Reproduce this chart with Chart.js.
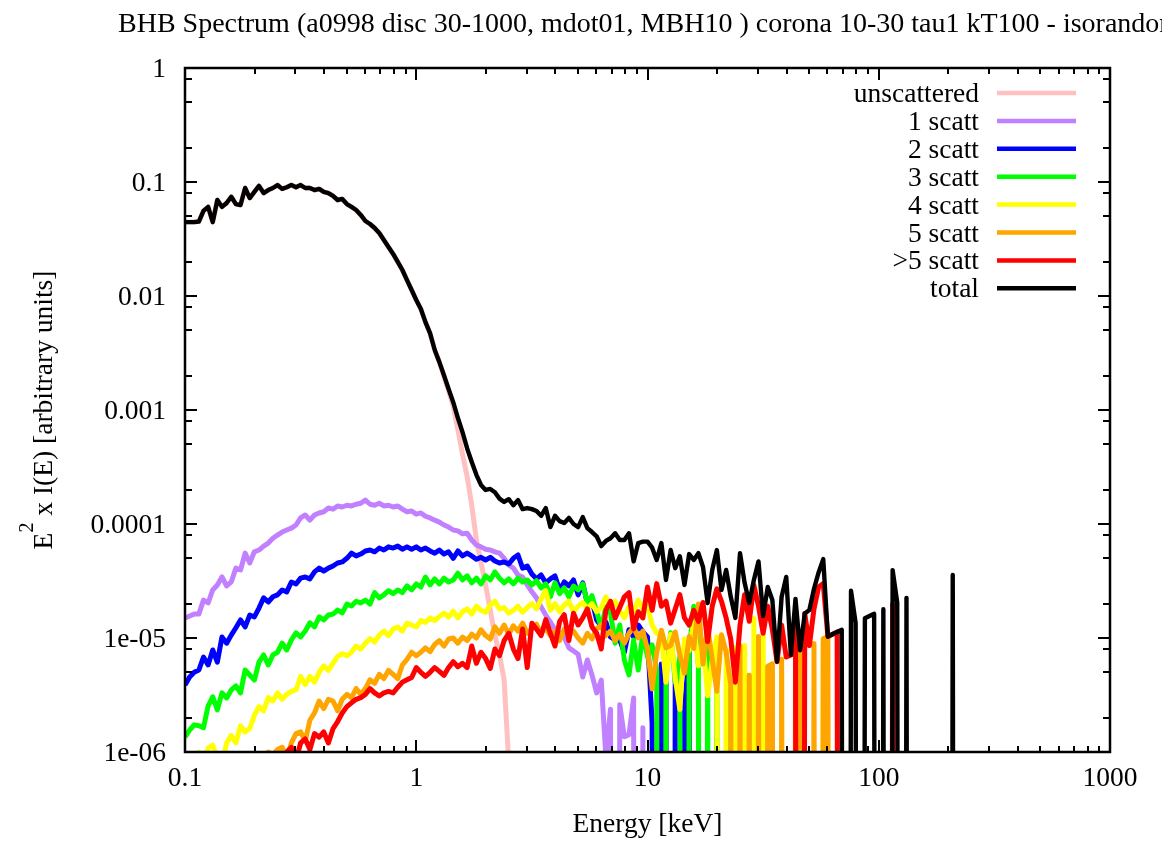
<!DOCTYPE html>
<html><head><meta charset="utf-8">
<script src="https://cdn.jsdelivr.net/npm/chart.js@4.4.1/dist/chart.umd.min.js"></script>
<style>html,body{margin:0;padding:0;background:#fff;}#wrap{width:1162px;height:841px;}</style>
</head><body><div id="wrap"><canvas id="c" width="1162" height="841"></canvas></div>
<script>
const chartTitle = 'BHB Spectrum (a0998 disc 30-1000, mdot01, MBH10 ) corona 10-30 tau1 kT100 - isorandom';
const xAxisTitle = 'Energy [keV]';
const yAxisTitleBase = 'E', yAxisTitleSup = '2', yAxisTitleRest = ' x I(E) [arbitrary units]';

const xTickValues = [0.1, 1, 10, 100, 1000];
const xTickLabels = ['0.1', '1', '10', '100', '1000'];
const yTickValues = [1e-6, 1e-5, 1e-4, 1e-3, 0.01, 0.1, 1];
const yTickLabels = ['1e-06', '1e-05', '0.0001', '0.001', '0.01', '0.1', '1'];

// energy bins [keV]
const energy = [
0.1,0.1047,0.1096,0.1148,0.1202,0.1259,0.1318,0.138,0.1445,0.1514,
0.1585,0.166,0.1738,0.182,0.1905,0.1995,0.2089,0.2188,0.2291,0.2399,
0.2512,0.263,0.2754,0.2884,0.302,0.3162,0.3311,0.3467,0.3631,0.3802,
0.3981,0.4169,0.4365,0.4571,0.4786,0.5012,0.5248,0.5495,0.5754,0.6026,
0.631,0.6607,0.6918,0.7244,0.7586,0.7943,0.8318,0.871,0.912,0.955,
1,1.047,1.096,1.148,1.202,1.259,1.318,1.38,1.445,1.514,
1.585,1.66,1.738,1.82,1.905,1.995,2.089,2.188,2.291,2.399,
2.512,2.63,2.754,2.884,3.02,3.162,3.311,3.467,3.631,3.802,
3.981,4.169,4.365,4.571,4.786,5.012,5.248,5.495,5.754,6.026,
6.31,6.607,6.918,7.244,7.586,7.943,8.318,8.71,9.12,9.55,
10,10.47,10.96,11.48,12.02,12.59,13.18,13.8,14.45,15.14,
15.85,16.6,17.38,18.2,19.05,19.95,20.89,21.88,22.91,23.99,
25.12,26.3,27.54,28.84,30.2,31.62,33.11,34.67,36.31,38.02,
39.81,41.69,43.65,45.71,47.86,50.12,52.48,54.95,57.54,60.26,
63.1,66.07,69.18,72.44,75.86,79.43,83.18,87.1,91.2,95.5,
100,104.7,109.6,114.8,120.2,125.9,131.8,138,144.5,151.4,
158.5,166,173.8,182,190.5,199.5,208.9,218.8];

// E^2 x I(E) per component (0 = empty bin)
const unscattered = [
0.0445,0.0445,0.0445,0.045,0.0558,0.0605,0.0445,0.0695,0.0605,0.0655,
0.0742,0.064,0.0628,0.0886,0.0723,0.0818,0.0924,0.08,0.085,0.0886,
0.094,0.087,0.09,0.094,0.09,0.094,0.0886,0.0886,0.085,0.087,
0.0818,0.08,0.0755,0.0695,0.071,0.064,0.0605,0.0568,0.0514,0.0455,
0.0428,0.0395,0.0357,0.031,0.0269,0.0234,0.0199,0.0169,0.0138,0.0113,
0.00923,0.0077,0.0059,0.0047,0.00336,0.00263,0.00195,0.00148,0.00108,6.7e-4,
4.1e-4,2.6e-4,1.46e-4,7.24e-5,4.6e-5,2.92e-5,1.76e-5,1.06e-5,7.1e-6,4.28e-6,
8e-7];

const scatt1 = [
1.5e-5,1.56e-5,1.62e-5,1.62e-5,2.15e-5,2.03e-5,2.64e-5,2.92e-5,3.43e-5,2.86e-5,
3.1e-5,4.1e-5,3.95e-5,5.55e-5,4.55e-5,5.7e-5,5.91e-5,6.4e-5,6.8e-5,7.5e-5,
8.0e-5,8.5e-5,8.86e-5,9.2e-5,9.8e-5,1.13e-4,1.2e-4,1.08e-4,1.2e-4,1.25e-4,
1.28e-4,1.38e-4,1.35e-4,1.44e-4,1.41e-4,1.46e-4,1.44e-4,1.49e-4,1.52e-4,1.62e-4,
1.49e-4,1.46e-4,1.52e-4,1.44e-4,1.46e-4,1.41e-4,1.44e-4,1.35e-4,1.28e-4,1.3e-4,
1.22e-4,1.25e-4,1.17e-4,1.13e-4,1.08e-4,1.04e-4,9.8e-5,9.4e-5,8.86e-5,8.7e-5,
8.2e-5,8.3e-5,7.24e-5,6.55e-5,6.3e-5,6.0e-5,5.91e-5,5.7e-5,5.55e-5,5.0e-5,
4.37e-5,4.1e-5,3.57e-5,3.43e-5,2.92e-5,2.54e-5,2.25e-5,1.87e-5,1.59e-5,1.38e-5,
1.18e-5,1.11e-5,1.02e-5,8.2e-6,7.7e-6,7.2e-6,4.55e-6,6.41e-6,4.74e-6,3.3e-6,
4.28e-6,9e-7,2.37e-6,0,2.6e-6,1.36e-6,1.42e-6,2.98e-6,0,1.63e-6,
0];

const scatt2 = [
3.87e-6,4.55e-6,5.0e-6,5.24e-6,6.8e-6,5.8e-6,7.85e-6,6.15e-6,1.02e-5,9.0e-6,
1.06e-5,1.23e-5,1.44e-5,1.25e-5,1.59e-5,1.53e-5,1.83e-5,2.25e-5,2.07e-5,2.3e-5,
2.39e-5,2.64e-5,2.54e-5,3.1e-5,2.98e-5,3.35e-5,3.43e-5,3.3e-5,3.8e-5,4.1e-5,
3.87e-5,4.1e-5,4.28e-5,4.55e-5,4.65e-5,5.0e-5,5.55e-5,5.25e-5,5.45e-5,5.8e-5,
5.91e-5,5.7e-5,6.15e-5,5.91e-5,6.3e-5,6.15e-5,6.4e-5,6.0e-5,6.3e-5,6.0e-5,
6.3e-5,5.91e-5,6.15e-5,5.8e-5,5.55e-5,5.91e-5,5.45e-5,5.7e-5,5.0e-5,5.8e-5,
5.25e-5,5.55e-5,5.25e-5,4.9e-5,5.1e-5,4.83e-5,5.1e-5,4.74e-5,4.55e-5,4.65e-5,
4.46e-5,5.0e-5,5.35e-5,4.1e-5,4.28e-5,3.64e-5,3.3e-5,3.57e-5,3.05e-5,3.3e-5,
3.5e-5,2.64e-5,3.1e-5,2.86e-5,3.23e-5,2.39e-5,3.05e-5,2.0e-5,2.15e-5,1.44e-5,
1.27e-5,1.38e-5,1.02e-5,9.6e-6,9.6e-6,7.5e-6,1.18e-5,1.02e-5,1.3e-5,1.13e-5,
1.02e-5,1.79e-6,0,5.9e-6,4.1e-6,0,4.5e-6,0,2.46e-6,7.7e-6,
0];

const scatt3 = [
1.35e-6,1.56e-6,1.73e-6,1.7e-6,1.63e-6,2.54e-6,3.05e-6,2.34e-6,3.3e-6,2.98e-6,
3.5e-6,3.8e-6,3.3e-6,5.24e-6,4.74e-6,4.28e-6,6.15e-6,7.1e-6,5.8e-6,7.1e-6,
7.5e-6,9.0e-6,7.85e-6,9.6e-6,1.11e-5,1.02e-5,1.15e-5,1.36e-5,1.25e-5,1.53e-5,
1.44e-5,1.59e-5,1.62e-5,1.76e-5,1.66e-5,1.98e-5,1.91e-5,2.1e-5,2.03e-5,2.15e-5,
1.98e-5,2.5e-5,2.25e-5,2.39e-5,2.6e-5,2.45e-5,2.64e-5,2.5e-5,2.86e-5,2.64e-5,
2.98e-5,2.8e-5,3.43e-5,2.92e-5,3.3e-5,2.98e-5,3.35e-5,3.1e-5,3.23e-5,3.7e-5,
3.23e-5,3.5e-5,3.05e-5,3.35e-5,2.98e-5,3.5e-5,3.23e-5,3.8e-5,3.35e-5,3.05e-5,
3.3e-5,2.98e-5,3.35e-5,3.1e-5,3.23e-5,2.92e-5,3.18e-5,2.75e-5,2.98e-5,2.3e-5,
3.05e-5,2.45e-5,2.75e-5,2.3e-5,2.86e-5,2.64e-5,2.98e-5,2.03e-5,2.35e-5,1.69e-5,
1.23e-5,1.87e-5,1.66e-5,9.0e-6,1.3e-5,6.41e-6,4.74e-6,9.6e-6,5.24e-6,1.11e-5,
6.8e-6,8.7e-6,5.24e-6,0,4.55e-6,1.11e-5,4.1e-6,6.8e-6,0,7.77e-6,
1.9e-5,5.7e-6,0,9.3e-6,0,3.41e-6,0,0,3.91e-6,0,
0,0,4.71e-6,0,0,5.4e-6,0];

const scatt4 = [
5e-7,6e-7,8e-7,1.0e-6,8e-7,1.08e-6,1.15e-6,8.5e-7,7.7e-7,1.2e-6,
1.4e-6,1.2e-6,1.7e-6,1.5e-6,1.6e-6,2.1e-6,2.5e-6,2.3e-6,3.0e-6,2.8e-6,
3.3e-6,2.9e-6,3.2e-6,3.4e-6,3.5e-6,4.6e-6,3.9e-6,4.6e-6,4.1e-6,5.0e-6,
5.7e-6,5.2e-6,6.0e-6,6.9e-6,7.3e-6,7.0e-6,7.5e-6,8.5e-6,8.0e-6,9.0e-6,
9.9e-6,9.2e-6,1.06e-5,1.15e-5,1.05e-5,1.2e-5,1.25e-5,1.15e-5,1.35e-5,1.3e-5,
1.25e-5,1.42e-5,1.37e-5,1.5e-5,1.42e-5,1.55e-5,1.65e-5,1.53e-5,1.72e-5,1.5e-5,
1.7e-5,1.8e-5,1.62e-5,1.9e-5,1.75e-5,1.68e-5,1.95e-5,2.1e-5,1.8e-5,1.85e-5,
1.65e-5,1.75e-5,1.9e-5,1.68e-5,1.85e-5,2.0e-5,1.8e-5,2.2e-5,2.6e-5,1.75e-5,
2.0e-5,1.7e-5,1.95e-5,2.1e-5,1.7e-5,1.9e-5,2.05e-5,1.8e-5,2.0e-5,1.7e-5,
1.85e-5,2.3e-5,1.9e-5,2.1e-5,1.75e-5,1.5e-5,1.9e-5,1.7e-5,2.15e-5,1.8e-5,
1.9e-5,1.3e-5,1.1e-5,1.05e-5,4.1e-6,1.08e-5,4.5e-6,2.36e-6,9.84e-6,7.77e-6,
1.36e-5,5.7e-6,8.9e-6,3.11e-6,6.5e-6,1.02e-5,0,7.5e-6,7.8e-6,8.2e-6,
0,8.6e-6,0,1.48e-5,0,1.08e-5,0,5.93e-6,0,6.5e-6,
0,0,0,0,0,0,0,0,9.84e-6,0];

const scatt5 = [
1.5e-7,2e-7,1.8e-7,2.5e-7,2.2e-7,3e-7,2.8e-7,3.5e-7,3.2e-7,4e-7,
4.5e-7,4.2e-7,5e-7,5.5e-7,5e-7,6.5e-7,6e-7,8e-7,1.0e-6,9.5e-7,
1.05e-6,1.1e-6,8.8e-7,1.2e-6,1.45e-6,1.5e-6,1.25e-6,1.9e-6,2.2e-6,2.8e-6,
2.4e-6,2.9e-6,2.8e-6,2.3e-6,2.9e-6,3.2e-6,3.0e-6,3.6e-6,3.2e-6,3.6e-6,
4.3e-6,4.0e-6,4.8e-6,4.4e-6,5.2e-6,4.8e-6,4.4e-6,5.8e-6,6.5e-6,7.5e-6,
7.0e-6,7.5e-6,8.2e-6,7.6e-6,8.8e-6,9.5e-6,8.5e-6,9.8e-6,1.0e-5,9.0e-6,
1.02e-5,9.5e-6,1.08e-5,1.0e-5,1.18e-5,1.05e-5,9.8e-6,1.25e-5,1.1e-5,1.3e-5,
1.08e-5,1.28e-5,1.15e-5,1.35e-5,1.1e-5,1.2e-5,1.32e-5,1.1e-5,1.22e-5,1.05e-5,
1.15e-5,9.5e-6,1.2e-5,1.05e-5,1.15e-5,1.0e-5,9.0e-6,1.1e-5,9.8e-6,1.2e-5,
1.3e-5,1.05e-5,1.15e-5,9.5e-6,1.08e-5,9.0e-6,1.1e-5,1.25e-5,1.0e-5,1.15e-5,
8.0e-6,3.58e-6,7.48e-6,1.17e-5,8.2e-6,8.6e-6,1.13e-5,7.1e-6,4.9e-6,1.03e-5,
8.1e-6,1.99e-5,5.9e-6,1.24e-5,6.5e-6,3.41e-6,1.07e-5,7.5e-6,3.91e-6,0,
8.6e-6,0,4.71e-6,0,1.03e-5,0,5.66e-6,5.93e-6,0,6.5e-6,
0,0,7.46e-6,7.8e-6,0,0,8.97e-6,0,9.84e-6,1.03e-5,
0];

const scattMore = [
1e-7,1.2e-7,1.1e-7,1.5e-7,1.4e-7,1.8e-7,2e-7,2.3e-7,2.2e-7,2.7e-7,
3e-7,3.3e-7,3.1e-7,3.8e-7,4.2e-7,4e-7,4.8e-7,5.2e-7,5.8e-7,6e-7,
7e-7,7.5e-7,1.0e-6,1.1e-6,8.5e-7,1.2e-6,1.3e-6,1.05e-6,1.45e-6,1.35e-6,
1.5e-6,1.2e-6,1.6e-6,1.85e-6,2.2e-6,2.5e-6,2.7e-6,2.9e-6,3.0e-6,3.2e-6,
3.6e-6,3.3e-6,3.1e-6,3.3e-6,3.4e-6,3.3e-6,3.7e-6,4.1e-6,4.3e-6,4.5e-6,
5.5e-6,5.0e-6,4.6e-6,5.0e-6,5.5e-6,5.1e-6,4.7e-6,5.5e-6,6.2e-6,5.6e-6,
6.0e-6,5.5e-6,8.5e-6,6.0e-6,7.5e-6,6.6e-6,5.4e-6,8.0e-6,7.0e-6,9.5e-6,
1.1e-5,8.0e-6,6.6e-6,1.2e-5,5.5e-6,1.35e-5,1.2e-5,1.05e-5,1.45e-5,1.1e-5,
8.5e-6,1.4e-5,1.6e-5,9.5e-6,1.65e-5,1.3e-5,1.5e-5,1.8e-5,1.25e-5,1.1e-5,
8.0e-6,1.75e-5,2.1e-5,1.5e-5,1.85e-5,2.3e-5,2.5e-5,1.2e-5,1.7e-5,1.5e-5,
2.8e-5,1.75e-5,3.0e-5,1.9e-5,2.1e-5,1.35e-5,1.8e-5,2.4e-5,1.5e-5,1.3e-5,
1.75e-5,1.4e-5,2.05e-5,9.3e-6,1.9e-5,2.7e-5,2.1e-5,1.5e-5,9.8e-6,4.1e-6,
1.3e-5,2.4e-5,1.4e-5,2.9e-5,1.9e-5,1.1e-5,1.9e-5,1.19e-5,6.2e-6,1.3e-5,
6.8e-6,7.1e-6,1.5e-5,0,1.64e-5,8.57e-6,1.8e-5,2.8e-5,3.0e-5,1.03e-5,
1.08e-5,1.13e-5,0,0,0,0,0,0,0,0,
0,0,0,1.97e-5,0];

const total = [
0.0445,0.0445,0.0445,0.045,0.0558,0.0605,0.0445,0.0695,0.0605,0.0655,
0.0742,0.064,0.0628,0.0886,0.0723,0.0818,0.0924,0.08,0.085,0.0886,
0.094,0.087,0.09,0.094,0.09,0.094,0.0886,0.0886,0.085,0.087,
0.0818,0.08,0.0755,0.0695,0.071,0.064,0.0605,0.0568,0.0514,0.0455,
0.0428,0.0395,0.0357,0.031,0.0269,0.0234,0.0199,0.0169,0.0138,0.0113,
0.00923,0.0077,0.0059,0.0047,0.00336,0.00263,0.00202,0.00153,0.00117,8.5e-4,
6.4e-4,4.6e-4,3.5e-4,2.7e-4,2.2e-4,1.99e-4,2.03e-4,1.9e-4,1.67e-4,1.56e-4,
1.65e-4,1.46e-4,1.62e-4,1.35e-4,1.38e-4,1.35e-4,1.3e-4,1.18e-4,1.38e-4,9.4e-5,
1.18e-4,1.06e-4,1.02e-4,1.13e-4,1.0e-4,9.4e-5,1.15e-4,9.2e-5,8.5e-5,7.8e-5,
6.4e-5,7.1e-5,7.5e-5,8.3e-5,7.24e-5,7.24e-5,8.3e-5,4.7e-5,6.8e-5,7.0e-5,
7.0e-5,6.2e-5,4.83e-5,6.8e-5,3.23e-5,5.91e-5,4.1e-5,5.2e-5,2.92e-5,5.45e-5,
4.83e-5,5.55e-5,4.2e-5,2.03e-5,3.95e-5,5.91e-5,2.64e-5,3.95e-5,2.3e-5,1.5e-5,
5.55e-5,3.05e-5,2.03e-5,3.23e-5,4.7e-5,1.56e-5,2.8e-5,2.15e-5,6.2e-6,2.3e-5,
3.43e-5,7.1e-6,2.2e-5,7.8e-6,1.64e-5,1.76e-5,2.7e-5,3.76e-5,4.92e-5,1.03e-5,
1.08e-5,1.13e-5,1.18e-5,0,2.6e-5,1.36e-5,0,1.49e-5,1.56e-5,1.63e-5,
0,1.79e-5,0,3.94e-5,2.05e-5,0,2.25e-5,0,0,0,
0,0,0,0,0,0,3.57e-5,0];

const seriesLabels = ['unscattered', '1 scatt', '2 scatt', '3 scatt', '4 scatt', '5 scatt', '>5 scatt', 'total'];
const seriesValues = [unscattered, scatt1, scatt2, scatt3, scatt4, scatt5, scattMore, total];
const seriesColors = ['#ffc0c0', '#c080ff', '#0000ff', '#00ff00', '#ffff00', '#ffa500', '#ff0000', '#000000'];

// a log axis cannot show 0: empty bins are sent far below the bottom of the axis (clipped)
const EMPTY_BIN = 1e-30;
function toPoints(vals) {
  return vals.map((v, i) => ({x: energy[i], y: v > 0 ? v : EMPTY_BIN}));
}

const FAMILY = '"Liberation Serif", "Times New Roman", serif';
const FS = 27.5;

function seg(ctx, x1, y1, x2, y2) { ctx.beginPath(); ctx.moveTo(x1, y1); ctx.lineTo(x2, y2); ctx.stroke(); }

const gnuplotFrame = {
  id: 'gnuplotFrame',
  afterDatasetsDraw(chart) {
    const {ctx, chartArea: a} = chart;
    const xs = chart.scales.x, ys = chart.scales.y;
    ctx.save();
    ctx.strokeStyle = '#000';
    ctx.lineCap = 'butt';
    ctx.lineWidth = 2;
    const MAJ = 12, MINX = 6, MINY = 7;
    xTickValues.forEach(v => {
      const p = Math.round(xs.getPixelForValue(v));
      seg(ctx, p, a.bottom, p, a.bottom - MAJ);
      seg(ctx, p, a.top, p, a.top + MAJ);
    });
    xTickValues.slice(0, -1).forEach(d => {
      for (let m = 2; m <= 9; m++) {
        const p = Math.round(xs.getPixelForValue(d * m));
        seg(ctx, p, a.bottom, p, a.bottom - MINX);
        seg(ctx, p, a.top, p, a.top + MINX);
      }
    });
    yTickValues.forEach(v => {
      const p = Math.round(ys.getPixelForValue(v));
      seg(ctx, a.left, p, a.left + MAJ, p);
      seg(ctx, a.right, p, a.right - MAJ, p);
    });
    yTickValues.slice(0, -1).forEach(d => {
      [2, 5, 8].forEach(m => {
        const p = Math.round(ys.getPixelForValue(d * m));
        seg(ctx, a.left, p, a.left + MINY, p);
        seg(ctx, a.right, p, a.right - MINY, p);
      });
    });
    ctx.lineWidth = 2.5;
    ctx.strokeRect(a.left, a.top, a.right - a.left, a.bottom - a.top);

    ctx.fillStyle = '#000';
    const mainFont = FS + 'px ' + FAMILY;
    ctx.font = mainFont;
    ctx.textBaseline = 'alphabetic';
    ctx.textAlign = 'center';
    xTickValues.forEach((v, i) => ctx.fillText(xTickLabels[i], xs.getPixelForValue(v), a.bottom + 34));
    ctx.textAlign = 'right';
    yTickValues.forEach((v, i) => ctx.fillText(yTickLabels[i], a.left - 19, ys.getPixelForValue(v) + 9));
    ctx.textAlign = 'center';
    ctx.fillText(xAxisTitle, (a.left + a.right) / 2, 832);
    ctx.textAlign = 'left';
    ctx.font = '28px ' + FAMILY;
    ctx.fillText(chartTitle, 118, 32);
    ctx.save();
    ctx.translate(52, (a.top + a.bottom) / 2);
    ctx.rotate(-Math.PI / 2);
    const supFont = '20px ' + FAMILY;
    ctx.font = mainFont;
    const wE = ctx.measureText(yAxisTitleBase).width;
    const wR = ctx.measureText(yAxisTitleRest).width;
    ctx.font = supFont;
    const wS = ctx.measureText(yAxisTitleSup).width;
    let u = -(wE + wS + wR) / 2;
    ctx.textAlign = 'left';
    ctx.font = mainFont; ctx.fillText(yAxisTitleBase, u, 0); u += wE;
    ctx.font = supFont; ctx.fillText(yAxisTitleSup, u, -19); u += wS;
    ctx.font = mainFont; ctx.fillText(yAxisTitleRest, u, 0);
    ctx.restore();
    ctx.font = mainFont;
    ctx.textAlign = 'right';
    chart.data.datasets.forEach((ds, i) => {
      const yy = 93 + i * 27.9;
      ctx.fillStyle = '#000';
      ctx.fillText(ds.label, 979, yy + 9);
      ctx.strokeStyle = ds.borderColor;
      ctx.lineWidth = 4.5;
      seg(ctx, 997, yy, 1076, yy);
    });
    ctx.restore();
  }
};

new Chart(document.getElementById('c'), {
  type: 'line',
  data: {
    datasets: seriesLabels.map((lab, k) => ({
      label: lab,
      data: toPoints(seriesValues[k]),
      borderColor: seriesColors[k],
      backgroundColor: seriesColors[k],
      borderWidth: k === 7 ? 4.4 : 5,
      pointRadius: 0,
      pointHoverRadius: 0,
      fill: false,
      tension: 0,
      borderJoinStyle: 'round',
      order: 7 - k
    }))
  },
  options: {
    responsive: false,
    animation: false,
    devicePixelRatio: 1,
    events: [],
    layout: {padding: {left: 185, right: 52, top: 68, bottom: 89}},
    plugins: {legend: {display: false}, title: {display: false}, tooltip: {enabled: false}},
    scales: {
      x: {type: 'logarithmic', min: 0.1, max: 1000, display: false},
      y: {type: 'logarithmic', min: 1e-6, max: 1, display: false}
    }
  },
  plugins: [gnuplotFrame]
});
</script></body></html>
